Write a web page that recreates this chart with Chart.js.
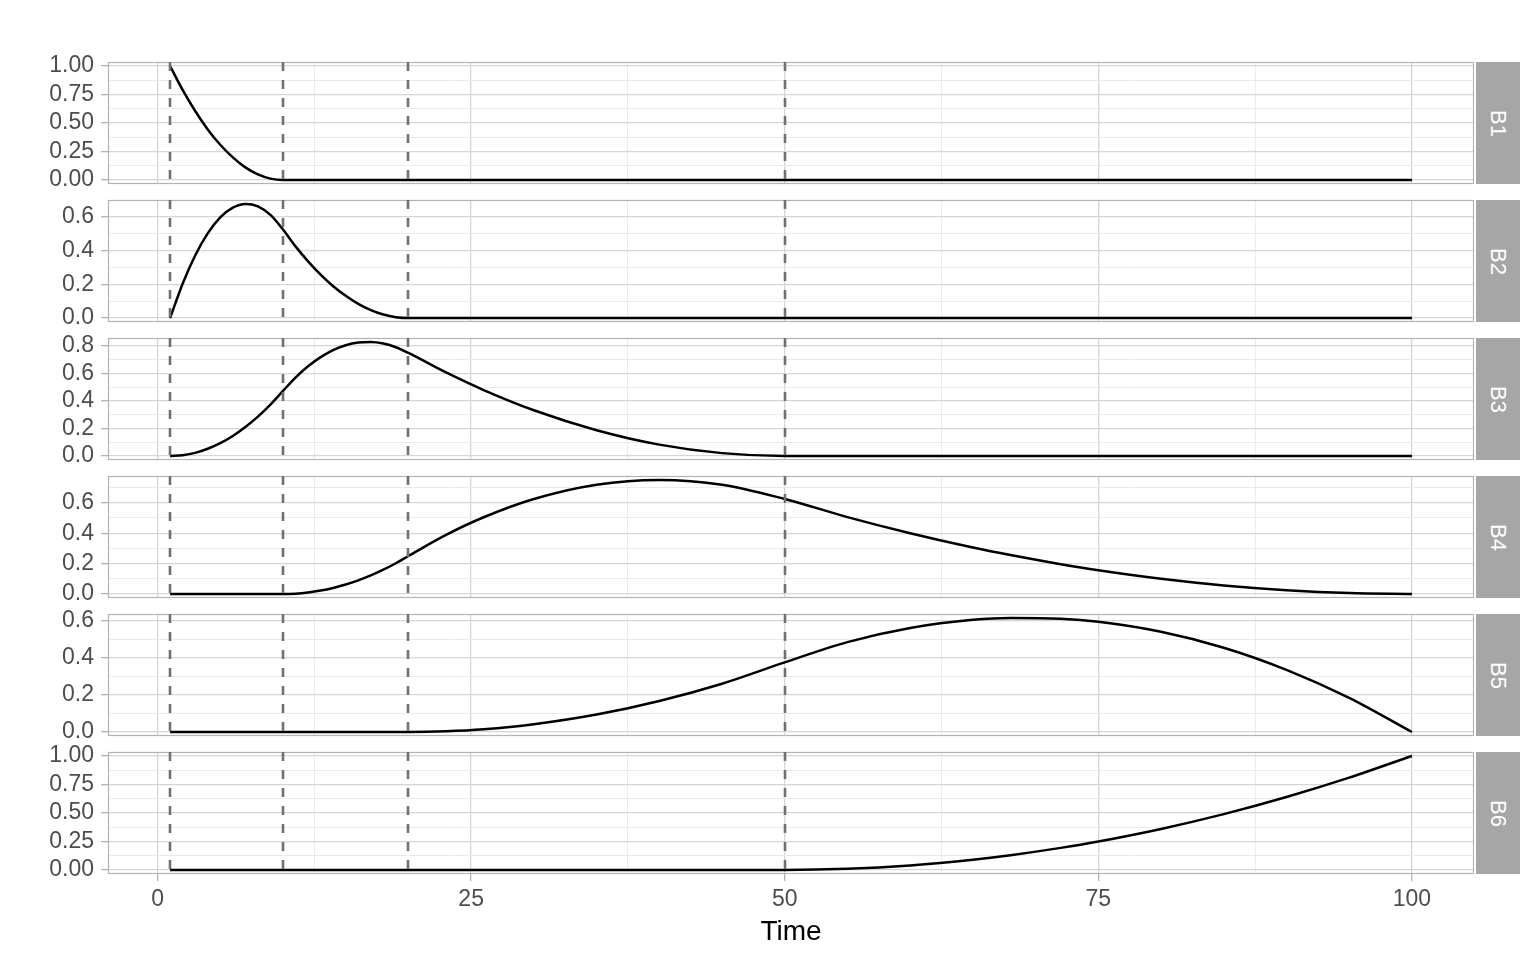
<!DOCTYPE html>
<html>
<head>
<meta charset="utf-8">
<script src="https://cdn.jsdelivr.net/npm/chart.js@4/dist/chart.umd.min.js"></script>
<style>
  body { margin: 0; background: #fff; }
  #wrap { position: relative; width: 1536px; height: 960px; overflow: hidden; }
  #wrap canvas { position: absolute; left: 0; }
  .strip {
    position: absolute; left: 1476px; width: 44px; height: 122px;
    background: #a6a6a6; color: #fff;
    font: 22px "Liberation Sans", Arial, sans-serif;
    writing-mode: vertical-rl;
    display: flex; align-items: center; justify-content: center;
  }
</style>
</head>
<body>
<div id="wrap"></div>
<script>
// sample times and basis values
const time = [1, 2, 3, 4, 5, 6, 7, 8, 9, 10, 11, 12, 13, 14, 15, 16, 17, 18, 19, 20,
  23, 26, 30, 35, 40, 45, 50, 55, 60, 65, 68, 72, 75, 80, 85, 90, 95, 100];
const B1 = [1, 0.79, 0.605, 0.444, 0.309, 0.198, 0.111, 0.049, 0.012, 0,
  0, 0, 0, 0, 0, 0, 0, 0, 0, 0,
  0, 0, 0, 0, 0, 0, 0, 0, 0, 0, 0, 0, 0, 0, 0, 0, 0, 0];
const B2 = [0, 0.204, 0.372, 0.503, 0.598, 0.656, 0.678, 0.664, 0.613, 0.526,
  0.426, 0.337, 0.258, 0.189, 0.132, 0.084, 0.047, 0.021, 0.005, 0,
  0, 0, 0, 0, 0, 0, 0, 0, 0, 0, 0, 0, 0, 0, 0, 0, 0, 0];
const B3 = [0, 0.006, 0.023, 0.053, 0.094, 0.146, 0.211, 0.287, 0.374, 0.474,
  0.571, 0.653, 0.72, 0.771, 0.806, 0.826, 0.83, 0.819, 0.792, 0.75,
  0.608, 0.48, 0.333, 0.188, 0.083, 0.021, 0,
  0, 0, 0, 0, 0, 0, 0, 0, 0, 0, 0];
const B4 = [0, 0, 0, 0, 0, 0, 0, 0, 0, 0,
  0.0025, 0.01, 0.0225, 0.04, 0.0625, 0.09, 0.1225, 0.16, 0.2025, 0.25,
  0.389, 0.505, 0.625, 0.719, 0.75, 0.719, 0.625,
  0.506, 0.4, 0.306, 0.256, 0.196, 0.156, 0.1, 0.056, 0.025, 0.006, 0];
const B5 = [0, 0, 0, 0, 0, 0, 0, 0, 0, 0, 0, 0, 0, 0, 0, 0, 0, 0, 0, 0,
  0.004, 0.015, 0.042, 0.094, 0.167, 0.26, 0.375,
  0.484, 0.56, 0.604, 0.614, 0.61, 0.594, 0.54, 0.454, 0.335, 0.184, 0];
const B6 = [0, 0, 0, 0, 0, 0, 0, 0, 0, 0, 0, 0, 0, 0, 0, 0, 0, 0, 0, 0,
  0, 0, 0, 0, 0, 0, 0,
  0.01, 0.04, 0.09, 0.13, 0.194, 0.25, 0.36, 0.49, 0.64, 0.81, 1];

const knots = [1, 10, 20, 50];
const xTicks = [0, 25, 50, 75, 100];
const panelNames = ["B1", "B2", "B3", "B4", "B5", "B6"];
const series = [B1, B2, B3, B4, B5, B6];
const yTicks = [
  [0, 0.25, 0.5, 0.75, 1],
  [0, 0.2, 0.4, 0.6],
  [0, 0.2, 0.4, 0.6, 0.8],
  [0, 0.2, 0.4, 0.6],
  [0, 0.2, 0.4, 0.6],
  [0, 0.25, 0.5, 0.75, 1]
];
const yDigits = [2, 1, 1, 1, 1, 2];

Chart.defaults.font.family = "'Liberation Sans', Arial, sans-serif";

const PANEL_TOP = 62, PANEL_H = 122, PANEL_STEP = 138, PAD = 24;
const MAJOR = "#d6d6d6", MINOR = "#ebebeb", FRAME = "#b3b3b3";

// majors plus the midpoints ggplot uses as minor breaks
function withMinors(majors, lo, hi) {
  const step = majors[1] - majors[0];
  const out = [];
  for (let v = majors[0] - step / 2; v <= hi + 1e-9; v += step / 2) {
    const r = Math.round(v * 1000) / 1000;
    if (r >= lo && r <= hi) out.push(r);
  }
  return out;
}

const tMin = Math.min(...time), tMax = Math.max(...time);
const xMin = tMin - (tMax - tMin) * 0.05, xMax = tMax + (tMax - tMin) * 0.05;
const xAll = withMinors(xTicks, xMin, xMax);

const framePlugin = {
  id: "frame",
  beforeDatasetsDraw(chart) {
    const a = chart.chartArea, ctx = chart.ctx;
    ctx.save();
    ctx.strokeStyle = FRAME;
    ctx.lineWidth = 1.2;
    ctx.strokeRect(a.left + 0.5, a.top + 0.5, a.right - a.left - 1, a.bottom - a.top - 1);
    ctx.restore();
  },
  afterDatasetsDraw(chart) {
    const a = chart.chartArea, ctx = chart.ctx, xs = chart.scales.x;
    ctx.save();
    ctx.strokeStyle = "#707070";
    ctx.lineWidth = 2.6;
    ctx.setLineDash([9, 9]);
    knots.forEach(k => {
      const px = Math.round(xs.getPixelForValue(k));
      ctx.beginPath();
      ctx.moveTo(px, a.top);
      ctx.lineTo(px, a.bottom);
      ctx.stroke();
    });
    ctx.restore();
  }
};

const wrap = document.getElementById("wrap");

series.forEach((vals, i) => {
  const last = i === series.length - 1;
  const top = PANEL_TOP + i * PANEL_STEP;
  const canvas = document.createElement("canvas");
  const h = last ? 960 - (top - PAD) : PANEL_H + 2 * PAD;
  canvas.width = 1475;
  canvas.height = h;
  canvas.style.top = (top - PAD) + "px";
  canvas.style.width = "1475px";
  canvas.style.height = h + "px";
  wrap.appendChild(canvas);

  const strip = document.createElement("div");
  strip.className = "strip";
  strip.style.top = top + "px";
  strip.textContent = panelNames[i];
  wrap.appendChild(strip);

  const vMax = Math.max(...vals), vMin = Math.min(...vals);
  const yMin = vMin - (vMax - vMin) * 0.035, yMax = vMax + (vMax - vMin) * 0.035;
  const majors = yTicks[i];
  const yAll = withMinors(majors, yMin, yMax);

  new Chart(canvas, {
    type: "line",
    data: {
      datasets: [{
        data: time.map((t, j) => ({ x: t, y: vals[j] })),
        borderColor: "#000",
        borderWidth: 2.5,
        pointRadius: 0,
        cubicInterpolationMode: "monotone",
        fill: false
      }]
    },
    options: {
      responsive: false,
      animation: false,
      devicePixelRatio: 1,
      layout: { padding: { top: PAD, bottom: last ? 0 : PAD, left: 0, right: 1 } },
      plugins: { legend: { display: false }, tooltip: { enabled: false } },
      scales: {
        x: {
          type: "linear",
          min: xMin,
          max: xMax,
          afterBuildTicks: s => { s.ticks = xAll.map(v => ({ value: v })); },
          afterFit: s => { s.height = last ? 86 : 0; },
          border: { display: false },
          grid: {
            drawTicks: last,
            tickLength: 7,
            color: c => xTicks.includes(c.tick.value) ? MAJOR : MINOR,
            lineWidth: c => xTicks.includes(c.tick.value) ? 1.3 : 1,
            tickColor: c => xTicks.includes(c.tick.value) ? FRAME : "rgba(0,0,0,0)"
          },
          ticks: {
            display: last,
            autoSkip: false,
            maxRotation: 0,
            padding: 5,
            color: "#4d4d4d",
            font: { size: 23 },
            callback: v => xTicks.includes(v) ? String(v) : ""
          },
          title: {
            display: last,
            text: "Time",
            color: "#000",
            font: { size: 28 },
            padding: { top: 0, bottom: 11 }
          }
        },
        y: {
          min: yMin,
          max: yMax,
          afterBuildTicks: s => { s.ticks = yAll.map(v => ({ value: v })); },
          afterFit: s => { s.width = 108; },
          border: { display: false },
          grid: {
            tickLength: 7,
            color: c => majors.includes(c.tick.value) ? MAJOR : MINOR,
            lineWidth: c => majors.includes(c.tick.value) ? 1.3 : 1,
            tickColor: c => majors.includes(c.tick.value) ? FRAME : "rgba(0,0,0,0)"
          },
          ticks: {
            autoSkip: false,
            padding: 7,
            color: "#4d4d4d",
            font: { size: 23 },
            callback: v => majors.includes(v) ? v.toFixed(yDigits[i]) : ""
          }
        }
      }
    },
    plugins: [framePlugin]
  });
});
</script>
</body>
</html>
